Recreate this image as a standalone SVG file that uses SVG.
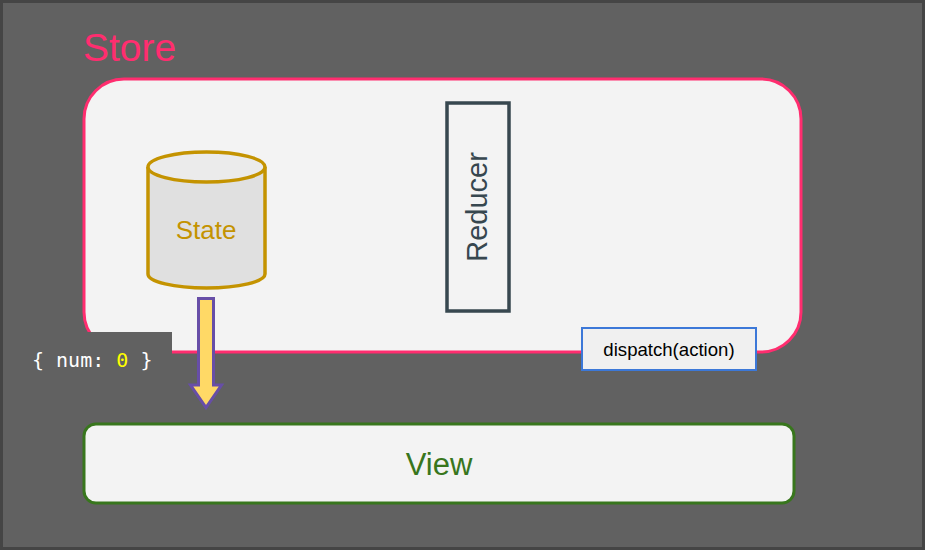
<svg xmlns="http://www.w3.org/2000/svg" width="925" height="550" viewBox="0 0 925 550">
<style>
.sans{font-family:"Liberation Sans",Arial,sans-serif}
.mono{font-family:"DejaVu Sans Mono","Liberation Mono",monospace}
</style>
<defs></defs>
<rect x="1.5" y="1.5" width="922" height="547" fill="#616161" stroke="#454545" stroke-width="3"/>
<g id="store">
<text class="sans" x="83" y="61" font-size="39" fill="#FF2D6F">Store</text>
<rect x="84" y="79" width="717" height="273" rx="40" ry="40" fill="#F3F3F3" stroke="#FF2D6F" stroke-width="3"/>
</g>
<g id="reducer">
<rect x="447" y="103" width="62" height="208" fill="#F3F3F3" stroke="#37474F" stroke-width="3.5"/>
<text class="sans" transform="translate(487,207) rotate(-90)" text-anchor="middle" font-size="29" fill="#37474F">Reducer</text>
</g>
<g id="state">
<path d="M148,167 V274 A58.5,14 0 0 0 265,274 V167" fill="#E0E0E0" stroke="#C49300" stroke-width="3.5"/>
<ellipse cx="206.5" cy="167" rx="58.5" ry="15" fill="#EBEBEB" stroke="#C49300" stroke-width="3.5"/>
<text class="sans" x="206" y="239" text-anchor="middle" font-size="26" fill="#C49300">State</text>
</g>
<g id="code">
<rect x="3" y="332" width="169" height="46" fill="#616161"/>
<text class="mono" x="32" y="367" font-size="20" fill="#FFFFFF" xml:space="preserve">{ num: <tspan fill="#FFFF00">0</tspan> }</text>
</g>
<g id="dispatch">
<rect x="582" y="328" width="174" height="42" fill="#F0F0F0" stroke="#3C78D8" stroke-width="2"/>
<text class="sans" x="669" y="356" text-anchor="middle" font-size="18.6" fill="#000000">dispatch(action)</text>
</g>
<g id="view">
<rect x="84" y="424" width="710" height="79" rx="12" ry="12" fill="#F3F3F3" stroke="#38761D" stroke-width="3"/>
<text class="sans" x="439" y="475" text-anchor="middle" font-size="31" fill="#38761D">View</text>
</g>
<g id="connectors">
<path d="M198.5,298.5 H213.5 V385 H221.5 L206,407.5 L190.5,385 H198.5 Z" fill="#FFD966" stroke="#674EA7" stroke-width="3" stroke-linejoin="miter"/>
</g>
</svg>
